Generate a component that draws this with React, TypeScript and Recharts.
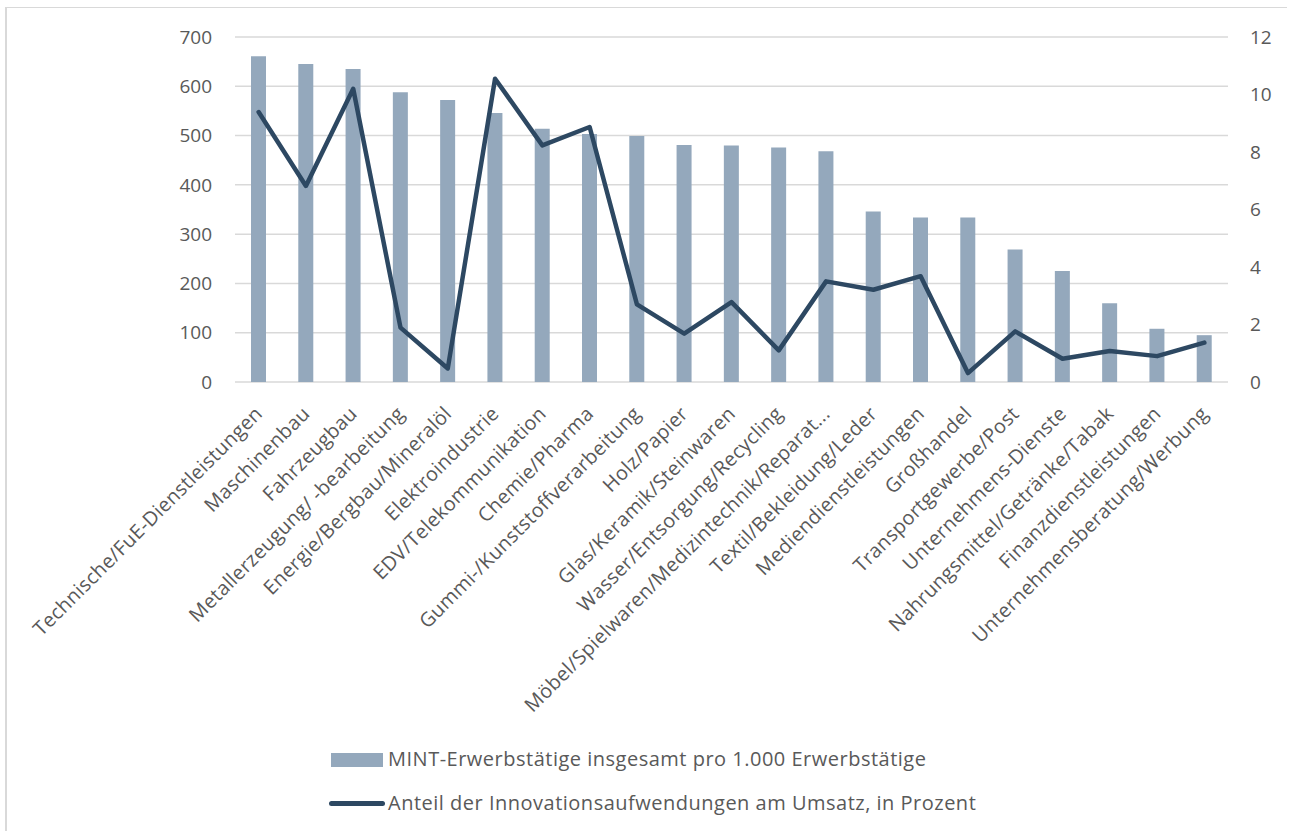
import React from "react";
import {
  ComposedChart,
  Bar,
  Line,
  XAxis,
  YAxis,
  CartesianGrid,
  Legend,
} from "recharts";

const categories = [
  "Technische/FuE-Dienstleistungen",
  "Maschinenbau",
  "Fahrzeugbau",
  "Metallerzeugung/ -bearbeitung",
  "Energie/Bergbau/Mineralöl",
  "Elektroindustrie",
  "EDV/Telekommunikation",
  "Chemie/Pharma",
  "Gummi-/Kunststoffverarbeitung",
  "Holz/Papier",
  "Glas/Keramik/Steinwaren",
  "Wasser/Entsorgung/Recycling",
  "Möbel/Spielwaren/Medizintechnik/Reparat...",
  "Textil/Bekleidung/Leder",
  "Mediendienstleistungen",
  "Großhandel",
  "Transportgewerbe/Post",
  "Unternehmens-Dienste",
  "Nahrungsmittel/Getränke/Tabak",
  "Finanzdienstleistungen",
  "Unternehmensberatung/Werbung",
];

const mintValues = [
  661, 645, 635, 588, 572, 546, 514, 503, 499, 481, 480, 476, 468, 346, 334,
  334, 269, 225, 160, 108, 95,
];

const innovationValues = [
  9.39, 6.82, 10.2, 1.89, 0.47, 10.55, 8.23, 8.87, 2.7, 1.68, 2.78, 1.1, 3.5,
  3.21, 3.68, 0.31, 1.76, 0.81, 1.08, 0.9, 1.37,
];

const leftTicks = [0, 100, 200, 300, 400, 500, 600, 700];
const rightTicks = [0, 2, 4, 6, 8, 10, 12];

const barName = "MINT-Erwerbstätige insgesamt pro 1.000 Erwerbstätige";
const lineName = "Anteil der Innovationsaufwendungen am Umsatz, in Prozent";

const BAR_COLOR = "#94A8BC";
const LINE_COLOR = "#2D4862";
const TEXT_COLOR = "#595959";
const GRID_COLOR = "#D9D9D9";
const FONT = "'Open Sans', 'Noto Sans', sans-serif";

const data = categories.map((c, i) => ({
  name: c,
  mint: mintValues[i],
  innov: innovationValues[i],
}));

const CategoryTick = (props: any) => {
  const { x, y, payload } = props;
  const ax = x + 5;
  const ay = y + 25;
  return (
    <text
      x={ax}
      y={ay}
      transform={`rotate(-45, ${ax}, ${ay})`}
      textAnchor="end"
      fill={TEXT_COLOR}
      fontSize={19.8}
      letterSpacing={0.3}
      fontFamily={FONT}
    >
      {payload.value}
    </text>
  );
};

const LegendContent = () => (
  <div
    style={{
      position: "relative",
      width: 1289,
      height: 90,
      fontFamily: FONT,
      fontSize: 20,
      letterSpacing: 0.5,
      color: TEXT_COLOR,
    }}
  >
    <div
      style={{
        position: "absolute",
        left: 331,
        top: 11,
        width: 52,
        height: 14,
        background: BAR_COLOR,
      }}
    />
    <div
      style={{
        position: "absolute",
        left: 388,
        top: 4,
        lineHeight: "26px",
        whiteSpace: "nowrap",
      }}
    >
      {barName}
    </div>
    <div
      style={{
        position: "absolute",
        left: 329,
        top: 59,
        width: 56,
        height: 5,
        borderRadius: 3,
        background: LINE_COLOR,
      }}
    />
    <div
      style={{
        position: "absolute",
        left: 388,
        top: 48,
        lineHeight: "26px",
        whiteSpace: "nowrap",
      }}
    >
      {lineName}
    </div>
  </div>
);

export default function App() {
  return (
    <div
      style={{
        position: "absolute",
        left: 0,
        top: 0,
        width: 1289,
        height: 832,
        overflow: "hidden",
        background: "#fff",
      }}
    >
      <div
        style={{
          position: "absolute",
          left: 5,
          top: 7,
          width: 1282,
          height: 824,
          borderLeft: `2px solid ${GRID_COLOR}`,
          borderTop: `1px solid ${GRID_COLOR}`,
          boxSizing: "border-box",
        }}
      />
      <div style={{ position: "absolute", left: 0, top: 0 }}>
        <ComposedChart
          width={1289}
          height={832}
          data={data}
          margin={{ top: 37, right: 0, bottom: 0, left: 0 }}
          barCategoryGap={0}
        >
          <CartesianGrid
            yAxisId="left"
            vertical={false}
            stroke={GRID_COLOR}
            strokeWidth={1.5}
          />
          <XAxis
            dataKey="name"
            interval={0}
            height={360}
            tickLine={false}
            axisLine={false}
            tick={<CategoryTick />}
          />
          <YAxis
            yAxisId="left"
            orientation="left"
            width={235}
            domain={[0, 700]}
            ticks={leftTicks}
            tickLine={false}
            axisLine={false}
            tickMargin={17}
            tick={{ fill: TEXT_COLOR, fontSize: 19, fontFamily: FONT }}
          />
          <YAxis
            yAxisId="right"
            orientation="right"
            width={61}
            domain={[0, 12]}
            ticks={rightTicks}
            tickLine={false}
            axisLine={false}
            tickMargin={16}
            tick={{ fill: TEXT_COLOR, fontSize: 19, fontFamily: FONT }}
          />
          <Bar
            yAxisId="left"
            dataKey="mint"
            name={barName}
            fill={BAR_COLOR}
            barSize={15}
            isAnimationActive={false}
          />
          <Line
            yAxisId="right"
            dataKey="innov"
            name={lineName}
            type="linear"
            stroke={LINE_COLOR}
            strokeWidth={4.5}
            strokeLinejoin="round"
            strokeLinecap="round"
            dot={false}
            activeDot={false}
            isAnimationActive={false}
          />
          <Legend
            verticalAlign="bottom"
            content={<LegendContent />}
            wrapperStyle={{ left: 0, width: 1289, height: 90 }}
          />
        </ComposedChart>
      </div>
    </div>
  );
}
